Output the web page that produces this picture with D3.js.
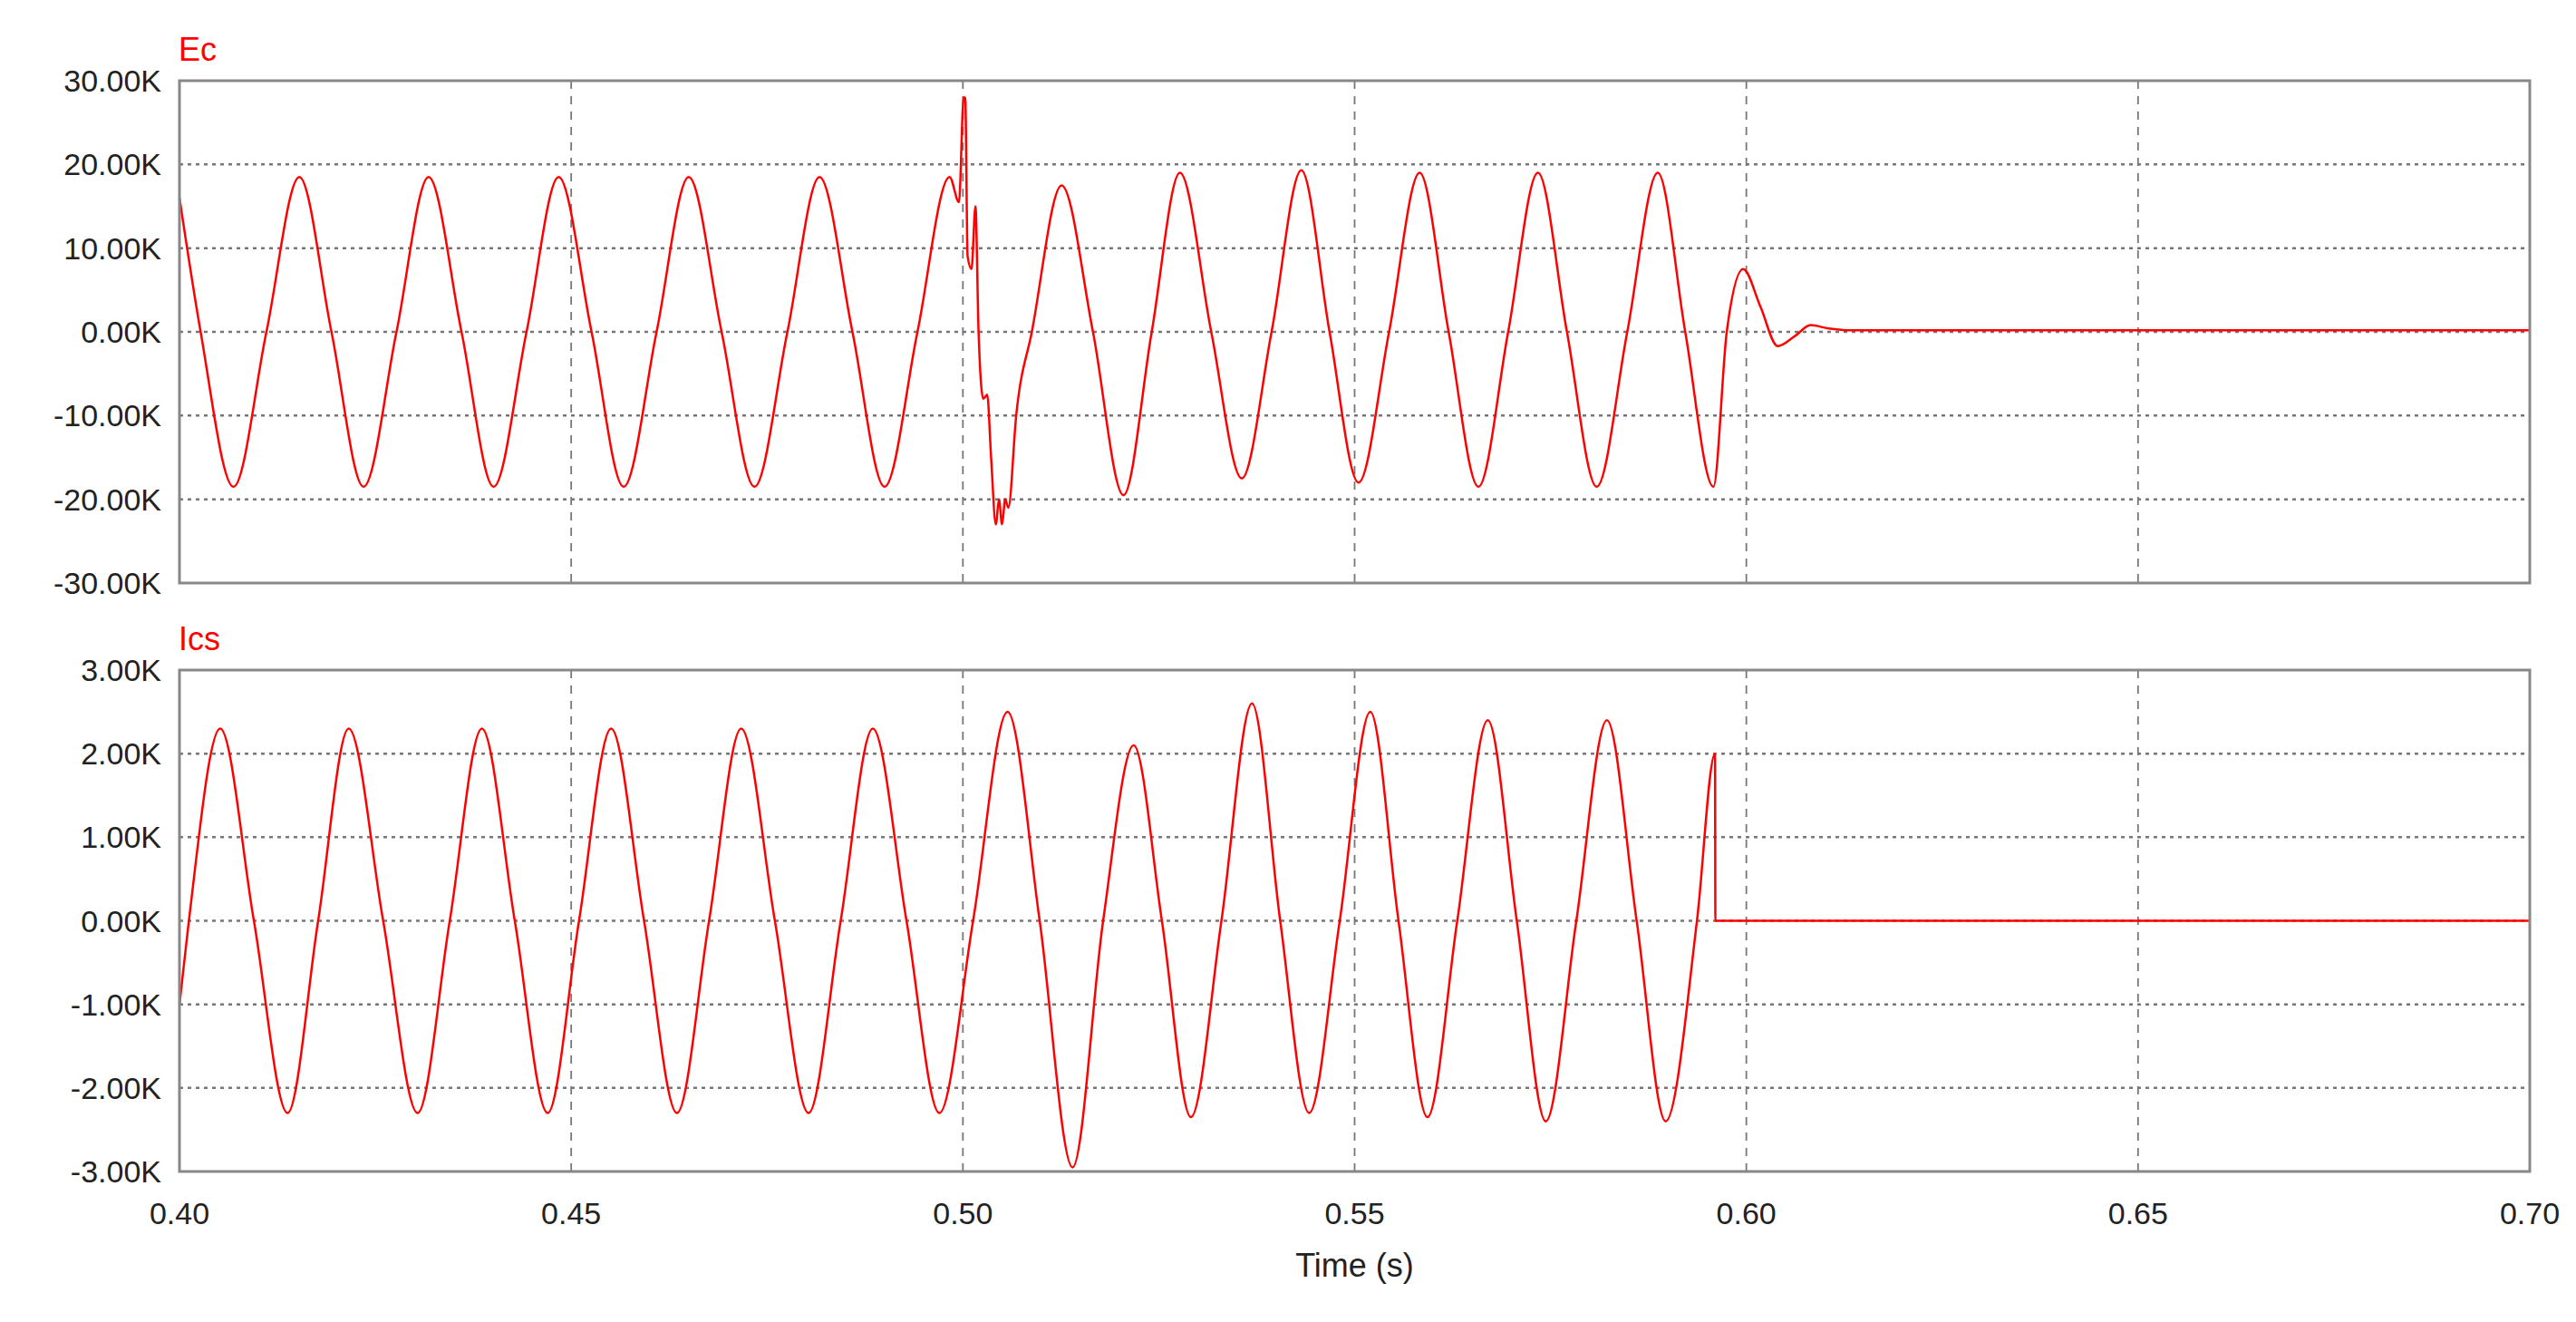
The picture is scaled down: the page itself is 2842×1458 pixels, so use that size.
<!DOCTYPE html>
<html>
<head>
<meta charset="utf-8">
<script src="https://cdn.jsdelivr.net/npm/d3@7"></script>
<style>
body { margin: 0; background: #fff; }
text { font-family: "Liberation Sans", Arial, sans-serif; }
</style>
</head>
<body>
<svg width="2842" height="1458"></svg>
<script>
// time ticks
var timeTicks = [0.40, 0.45, 0.50, 0.55, 0.60, 0.65, 0.70];
var ecTicks = [-30000, -20000, -10000, 0, 10000, 20000, 30000];
var icsTicks = [-3000, -2000, -1000, 0, 1000, 2000, 3000];

// Ec (V): peaks, troughs, zero crossings
var ecT = [0.4000, 0.4027, 0.4069, 0.4111, 0.4153, 0.4194, 0.4235, 0.4277, 0.4318, 0.4360, 0.4401, 0.4443, 0.4484,
    0.4526, 0.4567, 0.4609, 0.4650, 0.4692, 0.4734, 0.4776, 0.4817, 0.4859, 0.4900, 0.4942, 0.4983,
    0.4995, 0.5001, 0.5003, 0.5006, 0.5011, 0.5016, 0.5020, 0.5026, 0.5031, 0.5036, 0.5042, 0.5046, 0.5050, 0.5054, 0.5058,
    0.5068, 0.5088, 0.5126, 0.5166, 0.5205, 0.5241, 0.5277, 0.5317, 0.5356, 0.5394, 0.5432, 0.5468, 0.5505,
    0.5544, 0.5583, 0.5620, 0.5658, 0.5696, 0.5734, 0.5771, 0.5809, 0.5848, 0.5887, 0.5922, 0.5958,
    0.5975, 0.5996, 0.6018, 0.6040, 0.6062, 0.6082, 0.6105, 0.6130, 0.7000];
var ecV = [16000, 0, -18500, 0, 18500, 0, -18500, 0, 18500, 0, -18500, 0, 18500,
    0, -18500, 0, 18500, 0, -18500, 0, 18500, 0, -18500, 0, 18500,
    15500, 28000, 28000, 9000, 7500, 15000, 0, -8000, -7500, -15000, -23000, -20000, -23000, -20000, -21000,
    -10000, 0, 17500, 0, -19500, 0, 19000, 0, -17500, 0, 19300, 0, -18000,
    0, 19000, 0, -18500, 0, 19000, 0, -18500, 0, 19000, 0, -18500,
    0, 7500, 3000, -1700, -500, 800, 400, 200, 200];

// Ics (A)
var icsT = [0.4000, 0.4012, 0.4052, 0.4095, 0.4138, 0.4177, 0.4216, 0.4260, 0.4304, 0.4345, 0.4386, 0.4428, 0.4470,
    0.4510, 0.4551, 0.4593, 0.4635, 0.4676, 0.4717, 0.4760, 0.4803, 0.4844, 0.4885, 0.4928, 0.4970,
    0.5013, 0.5057, 0.5098, 0.5140, 0.5179, 0.5218, 0.5254, 0.5291, 0.5330, 0.5369, 0.5405, 0.5442,
    0.5481, 0.5520, 0.5556, 0.5593, 0.5631, 0.5670, 0.5707, 0.5744, 0.5783, 0.5822, 0.5860, 0.5897,
    0.5937, 0.5960, 0.59605, 0.7000];
var icsV = [-1000, 0, 2300, 0, -2300, 0, 2300, 0, -2300, 0, 2300, 0, -2300,
    0, 2300, 0, -2300, 0, 2300, 0, -2300, 0, 2300, 0, -2300,
    0, 2500, 0, -2950, 0, 2100, 0, -2350, 0, 2600, 0, -2300,
    0, 2500, 0, -2350, 0, 2400, 0, -2400, 0, 2400, 0, -2400,
    0, 2000, 0, 0];

var svg = d3.select("svg");
var left = 198, right = 2791;
var x = d3.scaleLinear().domain([0.40, 0.70]).range([left, right]);

// plain hyphen minus like the original software
function fmtK(v) { return (v / 1000).toFixed(2) + "K"; }

function panel(name, top, bottom, ticks, tArr, vArr) {
    var y = d3.scaleLinear().domain([ticks[0], ticks[ticks.length - 1]]).range([bottom, top]);
    var g = svg.append("g");

    g.selectAll(".hg").data(ticks.slice(1, -1)).enter().append("line")
        .attr("x1", left).attr("x2", right)
        .attr("y1", y).attr("y2", y)
        .attr("stroke", "#777").attr("stroke-width", 2.5).attr("stroke-dasharray", "4,5");
    g.selectAll(".vg").data(timeTicks.slice(1, -1)).enter().append("line")
        .attr("x1", x).attr("x2", x)
        .attr("y1", top).attr("y2", bottom)
        .attr("stroke", "#777").attr("stroke-width", 1.8).attr("stroke-dasharray", "9,8");

    var data = tArr.map(function(t, i) { return [t, vArr[i]]; });
    g.append("path").datum(data)
        .attr("fill", "none").attr("stroke", "#ff0000").attr("stroke-width", 2.5)
        .attr("d", d3.line().x(function(d) { return x(d[0]); }).y(function(d) { return y(d[1]); })
            .curve(d3.curveMonotoneX));

    g.append("rect").attr("x", left).attr("y", top).attr("width", right - left).attr("height", bottom - top)
        .attr("fill", "none").attr("stroke", "#888").attr("stroke-width", 3);

    g.selectAll(".yl").data(ticks).enter().append("text")
        .attr("x", 178).attr("y", function(d) { return y(d) + 12; })
        .attr("text-anchor", "end").attr("font-size", 34).attr("fill", "#222")
        .text(fmtK);

    g.append("text").attr("x", 197).attr("y", top - 22)
        .attr("font-size", 36).attr("fill", "#ff0000").text(name);
}

panel("Ec", 89, 643, ecTicks, ecT, ecV);
panel("Ics", 739, 1292, icsTicks, icsT, icsV);

svg.selectAll(".xl").data(timeTicks).enter().append("text")
    .attr("x", x).attr("y", 1350)
    .attr("text-anchor", "middle").attr("font-size", 34).attr("fill", "#222")
    .text(function(d) { return d.toFixed(2); });

svg.append("text").attr("x", (left + right) / 2).attr("y", 1408)
    .attr("text-anchor", "middle").attr("font-size", 36).attr("fill", "#222").text("Time (s)");
</script>
</body>
</html>
